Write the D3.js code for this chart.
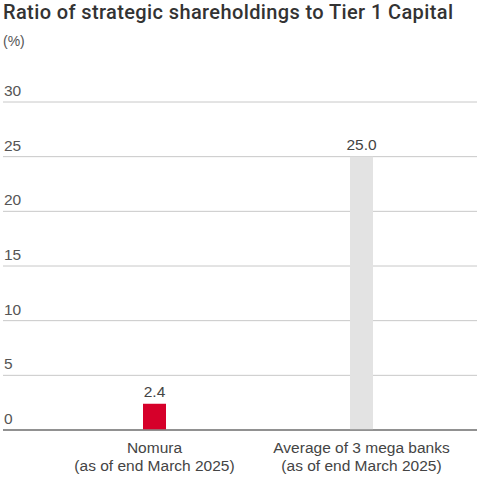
<!DOCTYPE html>
<html><head><meta charset="utf-8">
<script src="https://cdn.jsdelivr.net/npm/d3@7"></script>
<style>
html,body{margin:0;padding:0;background:#fff;}
svg{display:block;font-family:"Liberation Sans",Arial,Helvetica,sans-serif;}
</style></head>
<body><svg id="c" width="480" height="477"></svg>
<script>
const categories = ["Nomura", "Average of 3 mega banks"];
const subLabels = ["(as of end March 2025)", "(as of end March 2025)"];
const values = [2.4, 25.0];
const valueLabels = ["2.4", "25.0"];
const barColors = ["#d6002a", "#e3e3e3"];
const yTicks = [0, 5, 10, 15, 20, 25, 30];

const svg = d3.select("#c");
const x0 = 3, x1 = 477;
const y = d3.scaleLinear().domain([0, 30]).range([430, 102]);
const x = d3.scaleBand().domain(categories).range([51, 465]).paddingInner(0).paddingOuter(0);
const barW = 23;

svg.append("text").attr("x", 3).attr("y", 19).attr("font-size", 20).attr("font-weight", 500)
  .attr("font-family", "Roboto, 'Liberation Sans', sans-serif")
  .attr("textLength", 450).attr("lengthAdjust", "spacing")
  .attr("fill", "#333").text("Ratio of strategic shareholdings to Tier 1 Capital");
svg.append("text").attr("x", 3).attr("y", 46).attr("font-size", 14).attr("fill", "#555").text("(%)");

const g = svg.append("g");
yTicks.forEach(t => {
  g.append("line").attr("x1", x0).attr("x2", x1).attr("y1", y(t)).attr("y2", y(t))
    .attr("stroke", t === 0 ? "#8a8a8a" : "#c8c8c8").attr("stroke-width", t === 0 ? 1.5 : 1);
  g.append("text").attr("x", 4).attr("y", y(t) - 6).attr("font-size", 15.5).attr("fill", "#555").text(t);
});

categories.forEach((c, i) => {
  const cx = x(c) + x.bandwidth() / 2;
  g.append("rect").attr("x", cx - barW / 2).attr("width", barW)
    .attr("y", y(values[i])).attr("height", y(0) - y(values[i])).attr("fill", barColors[i]);
  g.append("text").attr("x", cx).attr("y", y(values[i]) - 7).attr("text-anchor", "middle")
    .attr("font-size", 15.5).attr("fill", "#444").text(valueLabels[i]);
  g.append("text").attr("x", cx).attr("y", 453).attr("text-anchor", "middle")
    .attr("font-size", 15.5).attr("fill", "#444").text(c);
  g.append("text").attr("x", cx).attr("y", 471).attr("text-anchor", "middle")
    .attr("font-size", 15.5).attr("fill", "#444").text(subLabels[i]);
});
g.append("line").attr("x1", x0).attr("x2", x1).attr("y1", y(0)).attr("y2", y(0))
  .attr("stroke", "#8a8a8a").attr("stroke-width", 1.5);
</script></body></html>
